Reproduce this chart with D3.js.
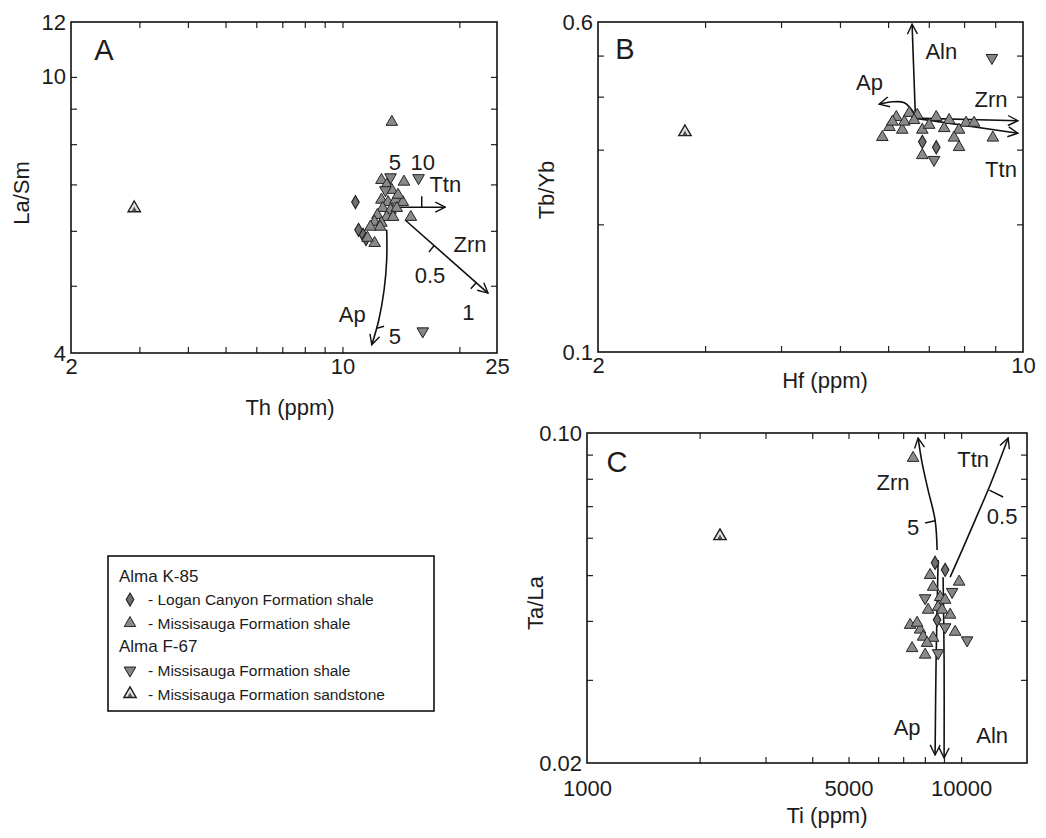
<!DOCTYPE html>
<html>
<head>
<meta charset="utf-8">
<script src="https://cdn.jsdelivr.net/npm/d3@7"></script>
<style>
  body { margin: 0; background: #fff; }
  svg text { font-family: "Liberation Sans", Arial, Helvetica, sans-serif; fill: #1c1c1c; }
</style>
</head>
<body>
<svg id="fig" width="1046" height="838"></svg>
<script>
// ---------- Panel A: La/Sm vs Th (ppm) ----------
const aLogan     = [[10.8, 6.60], [11.0, 6.02], [11.3, 5.92], [11.5, 5.84]];
const aK85Shale  = [[13.4, 8.61], [14.4, 7.06], [15.0, 6.28], [12.1, 5.76], [12.6, 7.10], [13.0, 6.99],
                    [13.4, 6.87], [12.6, 6.65], [13.1, 6.60], [13.7, 6.65], [14.3, 6.60], [12.7, 6.47],
                    [13.3, 6.43], [13.8, 6.47], [12.3, 6.32], [13.0, 6.28], [13.5, 6.28], [12.1, 6.18],
                    [12.6, 6.16], [12.5, 6.08], [11.8, 6.08], [11.6, 5.86], [13.9, 6.76]];
const aF67Shale  = [[15.7, 7.15], [16.1, 4.30], [13.3, 7.17], [12.9, 6.87]];
const aSandstone = [[2.91, 6.47]];

const aApCurve   = [[13.0, 6.02], [13.0, 5.45], [12.8, 4.93], [12.4, 4.46], [11.9, 4.11]];
const aTtnArrow  = [[13.65, 6.49], [18.4, 6.49]];
const aZrnArrow  = [[14.5, 6.22], [23.7, 4.88]];
const aTicks     = [[[12.2, 4.34], [12.8, 4.37]], [[16.0, 6.49], [16.0, 6.73]],
                    [[17.2, 5.71], [16.7, 5.59]], [[22.1, 5.05], [21.4, 4.95]]];
const aNotes     = [["5", 13.65, 7.52], ["10", 16.1, 7.54], ["Ttn", 18.4, 6.99], ["Zrn", 21.3, 5.73],
                    ["0.5", 16.8, 5.18], ["1", 21.1, 4.57], ["Ap", 10.6, 4.54], ["5", 13.65, 4.22]];

// ---------- Panel B: Tb/Yb vs Hf (ppm) ----------
const bLogan     = [[6.83, 0.313], [7.20, 0.304]];
const bK85Shale  = [[5.87, 0.321], [6.03, 0.339], [6.19, 0.358], [6.33, 0.334], [6.50, 0.366], [6.70, 0.362],
                    [6.83, 0.334], [6.83, 0.291], [7.20, 0.358], [7.56, 0.352], [7.85, 0.334], [7.85, 0.304],
                    [8.06, 0.347], [8.31, 0.347], [7.01, 0.343], [6.38, 0.349], [6.10, 0.349], [6.62, 0.352],
                    [7.70, 0.320], [7.42, 0.337], [8.92, 0.320]];
const bF67Shale  = [[8.89, 0.494], [7.14, 0.284]];
const bSandstone = [[2.78, 0.330]];

const bAlnArrow  = [[6.65, 0.366], [6.57, 0.593]];
const bApCurve   = [[6.62, 0.366], [6.38, 0.387], [6.10, 0.389], [5.80, 0.384]];
const bZrnArrow  = [[6.62, 0.356], [9.81, 0.351]];
const bTtnArrow  = [[6.62, 0.356], [9.81, 0.328]];
const bNotes     = [["Aln", 7.34, 0.510], ["Ap", 5.59, 0.433], ["Zrn", 8.86, 0.393], ["Ttn", 9.20, 0.269]];

// ---------- Panel C: Ta/La vs Ti (ppm) ----------
const cLogan     = [[8520, 0.0531], [9063, 0.0513], [8627, 0.0402]];
const cK85Shale  = [[7441, 0.0885], [9878, 0.0484], [8418, 0.0472], [8788, 0.0449], [8680, 0.0428],
                    [8161, 0.0422], [9346, 0.0412], [7305, 0.0392], [7768, 0.0383], [9638, 0.0379],
                    [7912, 0.0370], [8418, 0.0368], [8111, 0.0359], [7396, 0.0350], [8013, 0.0339],
                    [8896, 0.0422], [7626, 0.0396], [8261, 0.0500], [9063, 0.0443]];
const cF67Shale  = [[9461, 0.0461], [8013, 0.0447], [9063, 0.0388], [10375, 0.0364], [8680, 0.0342]];
const cSandstone = [[2267, 0.0605]];

const cZrnCurve  = [[8627, 0.0565], [8520, 0.0654], [8161, 0.0757], [7864, 0.0864], [7674, 0.0976]];
const cTtnCurve  = [[9346, 0.0495], [10062, 0.0565], [10900, 0.0654], [11956, 0.0776], [13358, 0.0976]];
const cApArrow   = [[8680, 0.0538], [8573, 0.0331], [8520, 0.0208]];
const cAlnArrow  = [[8950, 0.0495], [9006, 0.0331], [9006, 0.0205]];
const cTicks     = [[[8520, 0.0652], [8013, 0.0645]], [[11900, 0.0757], [12952, 0.0732]]];
const cNotes     = [["Zrn", 6579, 0.0787], ["5", 7441, 0.0632], ["Ttn", 10767, 0.0877],
                    ["0.5", 12872, 0.0664], ["Ap", 7172, 0.0238], ["Aln", 12102, 0.0229]];

// ---------- Legend ----------
const legendRows = [
  { kind: "head", text: "Alma K-85" },
  { kind: "logan", text: "- Logan Canyon Formation shale" },
  { kind: "k85", text: "- Missisauga Formation shale" },
  { kind: "head", text: "Alma F-67" },
  { kind: "f67", text: "- Missisauga Formation shale" },
  { kind: "sand", text: "- Missisauga Formation sandstone" }
];

// ---------- Drawing ----------
const svg = d3.select("#fig");
const FS = 22;

const defs = svg.append("defs");
defs.append("marker")
  .attr("id", "open-head")
  .attr("viewBox", "0 0 12 12")
  .attr("refX", 11).attr("refY", 6)
  .attr("markerWidth", 12).attr("markerHeight", 12)
  .attr("markerUnits", "userSpaceOnUse")
  .attr("orient", "auto")
  .append("path")
  .attr("d", "M1,1 L11,6 L1,11")
  .attr("fill", "none").attr("stroke", "#111").attr("stroke-width", 1.4);

const triPath  = d3.symbol().type(d3.symbolTriangle).size(58)();
const diaPath  = d3.symbol().type(d3.symbolDiamond).size(50)();
const sandOut  = d3.symbol().type(d3.symbolTriangle).size(66)();
const sandIn   = d3.symbol().type(d3.symbolTriangle).size(12)();

function drawSymbol(g, kind, x, y) {
  if (kind === "logan") {
    g.append("path").attr("d", diaPath).attr("transform", `translate(${x},${y})`)
      .attr("fill", "#6f6f6f").attr("stroke", "#1e1e1e").attr("stroke-width", 1.1);
  } else if (kind === "k85") {
    g.append("path").attr("d", triPath).attr("transform", `translate(${x},${y})`)
      .attr("fill", "#8a8a8a").attr("stroke", "#262626").attr("stroke-width", 1);
  } else if (kind === "f67") {
    g.append("path").attr("d", triPath).attr("transform", `translate(${x},${y}) rotate(180)`)
      .attr("fill", "#858585").attr("stroke", "#1e1e1e").attr("stroke-width", 1);
  } else if (kind === "sand") {
    g.append("path").attr("d", sandOut).attr("transform", `translate(${x},${y})`)
      .attr("fill", "#e2e2e2").attr("stroke", "#1e1e1e").attr("stroke-width", 1.4);
    g.append("path").attr("d", sandIn).attr("transform", `translate(${x},${y + 1.5})`)
      .attr("fill", "#555");
  }
}

function panel(cfg) {
  const { box } = cfg;
  const x = d3.scaleLog().domain(cfg.xDomain).range([box.x0, box.x1]);
  const y = d3.scaleLog().domain(cfg.yDomain).range([box.y1, box.y0]);
  const g = svg.append("g");

  // inward ticks on all four sides
  const tk = 6;
  const noLab = () => "";
  g.append("g").attr("transform", `translate(0,${box.y1})`)
    .call(d3.axisBottom(x).tickValues(cfg.xTicks).tickSizeInner(-tk).tickSizeOuter(0).tickFormat(noLab));
  g.append("g").attr("transform", `translate(0,${box.y0})`)
    .call(d3.axisTop(x).tickValues(cfg.xTicks).tickSizeInner(-tk).tickSizeOuter(0).tickFormat(noLab));
  g.append("g").attr("transform", `translate(${box.x0},0)`)
    .call(d3.axisLeft(y).tickValues(cfg.yTicks).tickSizeInner(-tk).tickSizeOuter(0).tickFormat(noLab));
  g.append("g").attr("transform", `translate(${box.x1},0)`)
    .call(d3.axisRight(y).tickValues(cfg.yTicks).tickSizeInner(-tk).tickSizeOuter(0).tickFormat(noLab));
  g.selectAll(".domain").remove();
  g.selectAll(".tick line").attr("stroke", "#222").attr("stroke-width", 1.2);

  // tick labels
  const xl = g.append("g").attr("transform", `translate(0,${box.y1})`)
    .call(d3.axisBottom(x).tickValues(cfg.xLabels).tickSize(0).tickPadding(cfg.xPad).tickFormat(cfg.xFmt));
  const yl = g.append("g").attr("transform", `translate(${box.x0},0)`)
    .call(d3.axisLeft(y).tickValues(cfg.yLabels).tickSize(0).tickPadding(5).tickFormat(cfg.yFmt));
  [xl, yl].forEach(a => {
    a.select(".domain").remove();
    a.selectAll("text").attr("font-size", FS).attr("font-family", null).attr("fill", "#1c1c1c");
  });

  // frame
  g.append("rect").attr("x", box.x0).attr("y", box.y0)
    .attr("width", box.x1 - box.x0).attr("height", box.y1 - box.y0)
    .attr("fill", "none").attr("stroke", "#111").attr("stroke-width", 1.6);

  // axis titles
  g.append("text").attr("x", cfg.xTitlePos[0]).attr("y", cfg.xTitlePos[1])
    .attr("text-anchor", "middle").attr("dominant-baseline", "central")
    .attr("font-size", FS).text(cfg.xTitle);
  g.append("text").attr("transform", `translate(${cfg.yTitlePos[0]},${cfg.yTitlePos[1]}) rotate(-90)`)
    .attr("text-anchor", "middle").attr("dominant-baseline", "central")
    .attr("font-size", FS).text(cfg.yTitle);

  // panel letter
  g.append("text").attr("x", cfg.letterPos[0]).attr("y", cfg.letterPos[1])
    .attr("text-anchor", "middle").attr("dominant-baseline", "central")
    .attr("font-size", 29).text(cfg.letter);

  // mixing trajectories
  const line = d3.line().x(d => x(d[0])).y(d => y(d[1]));
  const smooth = d3.line().x(d => x(d[0])).y(d => y(d[1])).curve(d3.curveCatmullRom.alpha(0.5));
  cfg.paths.forEach(p => {
    g.append("path").attr("d", (p.length > 2 ? smooth : line)(p))
      .attr("fill", "none").attr("stroke", "#111").attr("stroke-width", 1.6)
      .attr("marker-end", "url(#open-head)");
  });
  cfg.ticks.forEach(t => {
    g.append("path").attr("d", line(t)).attr("fill", "none")
      .attr("stroke", "#111").attr("stroke-width", 1.5);
  });

  // samples
  const pts = g.append("g");
  cfg.series.forEach(s => s.data.forEach(d => drawSymbol(pts, s.kind, x(d[0]), y(d[1]))));

  // trajectory labels
  cfg.notes.forEach(n => {
    g.append("text").attr("x", x(n[1])).attr("y", y(n[2]))
      .attr("text-anchor", "middle").attr("dominant-baseline", "central")
      .attr("font-size", FS).text(n[0]);
  });
}

panel({
  letter: "A", letterPos: [104, 50],
  box: { x0: 71, x1: 497, y0: 22, y1: 353 },
  xDomain: [2, 25], yDomain: [4, 12],
  xTicks: [3, 4, 5, 6, 7, 8, 9, 10, 20], yTicks: [5, 6, 7, 8, 9, 10],
  xLabels: [2, 10, 25], yLabels: [4, 10, 12], xPad: 5,
  xFmt: d3.format("d"), yFmt: d3.format("d"),
  xTitle: "Th (ppm)", xTitlePos: [290, 407],
  yTitle: "La/Sm", yTitlePos: [21, 193],
  series: [
    { kind: "sand", data: aSandstone }, { kind: "logan", data: aLogan },
    { kind: "k85", data: aK85Shale }, { kind: "f67", data: aF67Shale }
  ],
  paths: [aApCurve, aTtnArrow, aZrnArrow],
  ticks: aTicks, notes: aNotes
});

panel({
  letter: "B", letterPos: [625, 49],
  box: { x0: 598, x1: 1023, y0: 22, y1: 352 },
  xDomain: [2, 10], yDomain: [0.1, 0.6],
  xTicks: [3, 4, 5, 6, 7, 8, 9], yTicks: [0.2, 0.3, 0.4, 0.5],
  xLabels: [2, 10], yLabels: [0.1, 0.6], xPad: 5,
  xFmt: d3.format("d"), yFmt: d3.format(".1f"),
  xTitle: "Hf (ppm)", xTitlePos: [825, 380],
  yTitle: "Tb/Yb", yTitlePos: [546, 190],
  series: [
    { kind: "sand", data: bSandstone }, { kind: "k85", data: bK85Shale },
    { kind: "logan", data: bLogan }, { kind: "f67", data: bF67Shale }
  ],
  paths: [bAlnArrow, bApCurve, bZrnArrow, bTtnArrow],
  ticks: [], notes: bNotes
});

panel({
  letter: "C", letterPos: [617, 462],
  box: { x0: 587, x1: 1027, y0: 433, y1: 763 },
  xDomain: [1000, 15000], yDomain: [0.02, 0.1],
  xTicks: [2000, 3000, 4000, 5000, 6000, 7000, 8000, 9000, 10000],
  yTicks: [0.03, 0.04, 0.05, 0.06, 0.07, 0.08, 0.09],
  xLabels: [1000, 5000, 10000], yLabels: [0.02, 0.1], xPad: 17,
  xFmt: d3.format("d"), yFmt: d3.format(".2f"),
  xTitle: "Ti (ppm)", xTitlePos: [827, 815],
  yTitle: "Ta/La", yTitlePos: [535, 603],
  series: [
    { kind: "sand", data: cSandstone }, { kind: "k85", data: cK85Shale },
    { kind: "logan", data: cLogan }, { kind: "f67", data: cF67Shale }
  ],
  paths: [cZrnCurve, cTtnCurve, cApArrow, cAlnArrow],
  ticks: cTicks, notes: cNotes
});

// legend box
const lg = svg.append("g");
lg.append("rect").attr("x", 108).attr("y", 556).attr("width", 326).attr("height", 155)
  .attr("fill", "#fff").attr("stroke", "#111").attr("stroke-width", 1.6);
legendRows.forEach((r, i) => {
  const cy = 576 + i * 23.6;
  if (r.kind === "head") {
    lg.append("text").attr("x", 119).attr("y", cy).attr("dominant-baseline", "central")
      .attr("font-size", 17).text(r.text);
  } else {
    drawSymbol(lg, r.kind, 130, cy);
    lg.append("text").attr("x", 148).attr("y", cy).attr("dominant-baseline", "central")
      .attr("font-size", 15.5).text(r.text);
  }
});
</script>
</body>
</html>
